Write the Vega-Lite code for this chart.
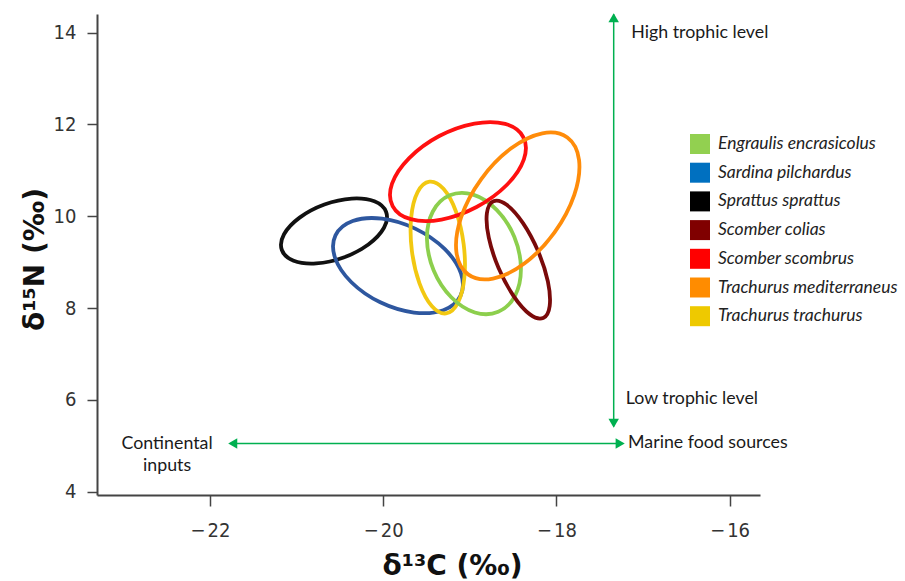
{
  "$schema": "https://vega.github.io/schema/vega-lite/v6.json",
  "width": 663,
  "height": 481,
  "autosize": {"type": "none"},
  "padding": {"left": 97, "top": 14, "right": 145, "bottom": 86},
  "background": "white",
  "config": {"view": {"stroke": null}},
  "datasets": {
    "ellipses": [
      {"sp": "Sprattus sprattus", "i": 0, "x": -19.966, "y": 10.091},
      {"sp": "Sprattus sprattus", "i": 1, "x": -19.991, "y": 9.748},
      {"sp": "Sprattus sprattus", "i": 2, "x": -20.171, "y": 9.385},
      {"sp": "Sprattus sprattus", "i": 3, "x": -20.457, "y": 9.100},
      {"sp": "Sprattus sprattus", "i": 4, "x": -20.773, "y": 8.971},
      {"sp": "Sprattus sprattus", "i": 5, "x": -21.034, "y": 9.030},
      {"sp": "Sprattus sprattus", "i": 6, "x": -21.170, "y": 9.263},
      {"sp": "Sprattus sprattus", "i": 7, "x": -21.145, "y": 9.606},
      {"sp": "Sprattus sprattus", "i": 8, "x": -20.965, "y": 9.969},
      {"sp": "Sprattus sprattus", "i": 9, "x": -20.679, "y": 10.254},
      {"sp": "Sprattus sprattus", "i": 10, "x": -20.363, "y": 10.384},
      {"sp": "Sprattus sprattus", "i": 11, "x": -20.102, "y": 10.324},
      {"sp": "Sardina pilchardus", "i": 0, "x": -19.108, "y": 8.265},
      {"sp": "Sardina pilchardus", "i": 1, "x": -19.306, "y": 7.953},
      {"sp": "Sardina pilchardus", "i": 2, "x": -19.645, "y": 7.902},
      {"sp": "Sardina pilchardus", "i": 3, "x": -20.034, "y": 8.124},
      {"sp": "Sardina pilchardus", "i": 4, "x": -20.367, "y": 8.561},
      {"sp": "Sardina pilchardus", "i": 5, "x": -20.556, "y": 9.095},
      {"sp": "Sardina pilchardus", "i": 6, "x": -20.551, "y": 9.583},
      {"sp": "Sardina pilchardus", "i": 7, "x": -20.352, "y": 9.895},
      {"sp": "Sardina pilchardus", "i": 8, "x": -20.013, "y": 9.946},
      {"sp": "Sardina pilchardus", "i": 9, "x": -19.625, "y": 9.724},
      {"sp": "Sardina pilchardus", "i": 10, "x": -19.291, "y": 9.287},
      {"sp": "Sardina pilchardus", "i": 11, "x": -19.102, "y": 8.753},
      {"sp": "Trachurus trachurus", "i": 0, "x": -19.274, "y": 7.883},
      {"sp": "Trachurus trachurus", "i": 1, "x": -19.437, "y": 8.039},
      {"sp": "Trachurus trachurus", "i": 2, "x": -19.581, "y": 8.538},
      {"sp": "Trachurus trachurus", "i": 3, "x": -19.669, "y": 9.246},
      {"sp": "Trachurus trachurus", "i": 4, "x": -19.677, "y": 9.972},
      {"sp": "Trachurus trachurus", "i": 5, "x": -19.603, "y": 10.523},
      {"sp": "Trachurus trachurus", "i": 6, "x": -19.466, "y": 10.751},
      {"sp": "Trachurus trachurus", "i": 7, "x": -19.304, "y": 10.595},
      {"sp": "Trachurus trachurus", "i": 8, "x": -19.159, "y": 10.096},
      {"sp": "Trachurus trachurus", "i": 9, "x": -19.071, "y": 9.388},
      {"sp": "Trachurus trachurus", "i": 10, "x": -19.063, "y": 8.662},
      {"sp": "Trachurus trachurus", "i": 11, "x": -19.138, "y": 8.111},
      {"sp": "Engraulis encrasicolus", "i": 0, "x": -18.672, "y": 7.917},
      {"sp": "Engraulis encrasicolus", "i": 1, "x": -18.942, "y": 7.903},
      {"sp": "Engraulis encrasicolus", "i": 2, "x": -19.214, "y": 8.234},
      {"sp": "Engraulis encrasicolus", "i": 3, "x": -19.417, "y": 8.819},
      {"sp": "Engraulis encrasicolus", "i": 4, "x": -19.495, "y": 9.503},
      {"sp": "Engraulis encrasicolus", "i": 5, "x": -19.427, "y": 10.102},
      {"sp": "Engraulis encrasicolus", "i": 6, "x": -19.232, "y": 10.455},
      {"sp": "Engraulis encrasicolus", "i": 7, "x": -18.962, "y": 10.469},
      {"sp": "Engraulis encrasicolus", "i": 8, "x": -18.690, "y": 10.138},
      {"sp": "Engraulis encrasicolus", "i": 9, "x": -18.487, "y": 9.553},
      {"sp": "Engraulis encrasicolus", "i": 10, "x": -18.410, "y": 8.869},
      {"sp": "Engraulis encrasicolus", "i": 11, "x": -18.477, "y": 8.270},
      {"sp": "Scomber colias", "i": 0, "x": -18.153, "y": 7.784},
      {"sp": "Scomber colias", "i": 1, "x": -18.306, "y": 7.862},
      {"sp": "Scomber colias", "i": 2, "x": -18.494, "y": 8.260},
      {"sp": "Scomber colias", "i": 3, "x": -18.668, "y": 8.871},
      {"sp": "Scomber colias", "i": 4, "x": -18.781, "y": 9.531},
      {"sp": "Scomber colias", "i": 5, "x": -18.803, "y": 10.064},
      {"sp": "Scomber colias", "i": 6, "x": -18.727, "y": 10.326},
      {"sp": "Scomber colias", "i": 7, "x": -18.574, "y": 10.248},
      {"sp": "Scomber colias", "i": 8, "x": -18.386, "y": 9.850},
      {"sp": "Scomber colias", "i": 9, "x": -18.212, "y": 9.239},
      {"sp": "Scomber colias", "i": 10, "x": -18.099, "y": 8.579},
      {"sp": "Scomber colias", "i": 11, "x": -18.078, "y": 8.046},
      {"sp": "Scomber scombrus", "i": 0, "x": -18.383, "y": 11.724},
      {"sp": "Scomber scombrus", "i": 1, "x": -18.376, "y": 11.237},
      {"sp": "Scomber scombrus", "i": 2, "x": -18.574, "y": 10.679},
      {"sp": "Scomber scombrus", "i": 3, "x": -18.922, "y": 10.200},
      {"sp": "Scomber scombrus", "i": 4, "x": -19.327, "y": 9.927},
      {"sp": "Scomber scombrus", "i": 5, "x": -19.682, "y": 9.935},
      {"sp": "Scomber scombrus", "i": 6, "x": -19.891, "y": 10.221},
      {"sp": "Scomber scombrus", "i": 7, "x": -19.898, "y": 10.708},
      {"sp": "Scomber scombrus", "i": 8, "x": -19.700, "y": 11.265},
      {"sp": "Scomber scombrus", "i": 9, "x": -19.353, "y": 11.745},
      {"sp": "Scomber scombrus", "i": 10, "x": -18.947, "y": 12.017},
      {"sp": "Scomber scombrus", "i": 11, "x": -18.592, "y": 12.009},
      {"sp": "Trachurus mediterraneus", "i": 0, "x": -17.874, "y": 11.714},
      {"sp": "Trachurus mediterraneus", "i": 1, "x": -17.739, "y": 11.223},
      {"sp": "Trachurus mediterraneus", "i": 2, "x": -17.794, "y": 10.465},
      {"sp": "Trachurus mediterraneus", "i": 3, "x": -18.024, "y": 9.642},
      {"sp": "Trachurus mediterraneus", "i": 4, "x": -18.367, "y": 8.974},
      {"sp": "Trachurus mediterraneus", "i": 5, "x": -18.732, "y": 8.641},
      {"sp": "Trachurus mediterraneus", "i": 6, "x": -19.020, "y": 8.732},
      {"sp": "Trachurus mediterraneus", "i": 7, "x": -19.155, "y": 9.223},
      {"sp": "Trachurus mediterraneus", "i": 8, "x": -19.100, "y": 9.981},
      {"sp": "Trachurus mediterraneus", "i": 9, "x": -18.870, "y": 10.804},
      {"sp": "Trachurus mediterraneus", "i": 10, "x": -18.527, "y": 11.472},
      {"sp": "Trachurus mediterraneus", "i": 11, "x": -18.163, "y": 11.805}
    ],
    "keys": [
      {"species": "Engraulis encrasicolus", "x": -19.0, "y": 9.0},
      {"species": "Sardina pilchardus", "x": -19.0, "y": 9.0},
      {"species": "Sprattus sprattus", "x": -19.0, "y": 9.0},
      {"species": "Scomber colias", "x": -19.0, "y": 9.0},
      {"species": "Scomber scombrus", "x": -19.0, "y": 9.0},
      {"species": "Trachurus mediterraneus", "x": -19.0, "y": 9.0},
      {"species": "Trachurus trachurus", "x": -19.0, "y": 9.0}
    ],
    "arrows": [
      {"x": -17.339, "y": 14.40, "x2": -17.339, "y2": 5.42},
      {"x": -21.76, "y": 5.05, "x2": -17.24, "y2": 5.05}
    ],
    "heads": [
      {"x": -17.339, "y": 14.32, "shape": "triangle-up"},
      {"x": -17.339, "y": 5.492, "shape": "triangle-down"},
      {"x": -21.737, "y": 5.05, "shape": "triangle-left"},
      {"x": -17.264, "y": 5.05, "shape": "triangle-right"}
    ],
    "notes": [
      {"t": "High trophic level", "x": -17.136, "y": 13.98},
      {"t": "Low trophic level", "x": -17.20, "y": 6.012},
      {"t": "Marine food sources", "x": -17.173, "y": 5.054}
    ],
    "notes2": [
      {"t": "Continental\ninputs", "x": -22.495, "y": 5.043}
    ]
  },
  "layer": [
    {
      "data": {"name": "keys"},
      "mark": {"type": "square", "size": 400, "opacity": 0},
      "encoding": {
        "x": {"field": "x", "type": "quantitative"},
        "y": {"field": "y", "type": "quantitative"},
        "color": {
          "field": "species", "type": "nominal",
          "scale": {
            "domain": ["Engraulis encrasicolus", "Sardina pilchardus", "Sprattus sprattus", "Scomber colias", "Scomber scombrus", "Trachurus mediterraneus", "Trachurus trachurus"],
            "range": ["#92D050", "#0070C0", "#000000", "#800000", "#FF0000", "#FF8C00", "#EEC900"]
          },
          "legend": {
            "orient": "none", "legendX": 593, "legendY": 120, "title": null,
            "symbolType": "square", "symbolSize": 400, "symbolStrokeWidth": 0, "symbolOpacity": 1,
            "labelFont": "Lato", "labelFontStyle": "italic", "labelFontSize": 17.5, "labelColor": "#222",
            "labelOffset": 8, "rowPadding": 8.7, "padding": 0, "labelLimit": 300
          }
        }
      }
    },
    {
      "data": {"name": "ellipses"},
      "mark": {"type": "line", "interpolate": "cardinal-closed", "strokeWidth": 3.8},
      "encoding": {
        "x": {
          "field": "x", "type": "quantitative",
          "scale": {"domain": [-23.304, -15.65], "nice": false, "zero": false},
          "axis": {
            "values": [-22, -20, -18, -16],
            "labelExpr": "'\u2212\u200a' + format(abs(datum.value), 'd')",
            "grid": false,
            "domainColor": "#444", "domainWidth": 2,
            "tickColor": "#444", "tickWidth": 1.5, "tickSize": 11,
            "labelFont": "'Liberation Sans Narrow', 'DejaVu Sans Condensed', 'Liberation Sans'", "labelFontSize": 20, "labelColor": "#333",
            "labelPadding": 14,
            "title": "δ¹³C (‰)",
            "titleFont": "DejaVu Sans", "titleFontWeight": "bold", "titleFontSize": 28, "titleColor": "#111",
            "titleX": 355, "titleY": 71, "titleAlign": "center", "titleBaseline": "middle"
          }
        },
        "y": {
          "field": "y", "type": "quantitative",
          "scale": {"domain": [3.928, 14.403], "nice": false, "zero": false},
          "axis": {
            "values": [4, 6, 8, 10, 12, 14],
            "format": "d",
            "grid": false,
            "domainColor": "#444", "domainWidth": 2,
            "tickColor": "#444", "tickWidth": 1.5, "tickSize": 10,
            "labelFont": "'Liberation Sans Narrow', 'DejaVu Sans Condensed', 'Liberation Sans'", "labelFontSize": 20, "labelColor": "#333",
            "labelPadding": 11,
            "title": "δ¹⁵N (‰)",
            "titleFont": "DejaVu Sans", "titleFontWeight": "bold", "titleFontSize": 28, "titleColor": "#111",
            "titleX": -62, "titleY": 245, "titleAlign": "center", "titleBaseline": "middle", "titleAngle": -90
          }
        },
        "stroke": {
          "field": "sp", "type": "nominal",
          "scale": {
            "domain": ["Engraulis encrasicolus", "Sardina pilchardus", "Sprattus sprattus", "Scomber colias", "Scomber scombrus", "Trachurus mediterraneus", "Trachurus trachurus"],
            "range": ["#8CCF4D", "#2E579F", "#111111", "#7A0A0A", "#FF1010", "#FF8C0A", "#F2C811"]
          },
          "legend": null
        },
        "order": {"field": "i", "type": "quantitative"}
      }
    },
    {
      "data": {"name": "arrows"},
      "mark": {"type": "rule", "color": "#00B050", "strokeWidth": 1.5},
      "encoding": {
        "x": {"field": "x", "type": "quantitative"},
        "y": {"field": "y", "type": "quantitative"},
        "x2": {"field": "x2"},
        "y2": {"field": "y2"}
      }
    },
    {
      "data": {"name": "heads"},
      "mark": {"type": "point", "filled": true, "size": 110, "color": "#00B050", "opacity": 1, "strokeWidth": 0},
      "encoding": {
        "x": {"field": "x", "type": "quantitative"},
        "y": {"field": "y", "type": "quantitative"},
        "shape": {"field": "shape", "type": "nominal", "scale": null}
      }
    },
    {
      "data": {"name": "notes"},
      "mark": {"type": "text", "align": "left", "baseline": "middle", "font": "Lato", "fontSize": 17.8, "color": "#1a1a1a"},
      "encoding": {
        "x": {"field": "x", "type": "quantitative"},
        "y": {"field": "y", "type": "quantitative"},
        "text": {"field": "t"}
      }
    },
    {
      "data": {"name": "notes2"},
      "mark": {"type": "text", "align": "center", "baseline": "middle", "font": "Lato", "fontSize": 17.8, "color": "#1a1a1a", "lineBreak": "\n", "lineHeight": 22.3},
      "encoding": {
        "x": {"field": "x", "type": "quantitative"},
        "y": {"field": "y", "type": "quantitative"},
        "text": {"field": "t"}
      }
    }
  ]
}
